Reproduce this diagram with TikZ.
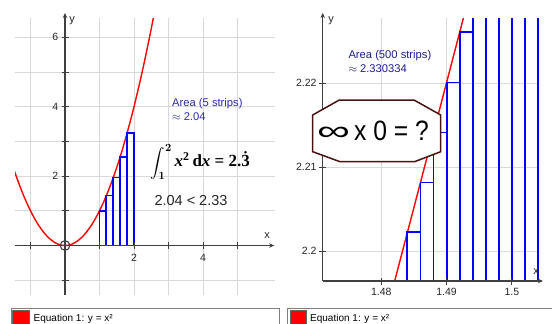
\documentclass[tikz,border=0pt]{standalone}
\usepackage[no-math]{fontspec}
\setmainfont{Liberation Sans}
\newfontfamily\serifbf{Liberation Serif}
\usepackage{amsmath}
\usetikzlibrary{arrows.meta}
\definecolor{gridc}{HTML}{D9D9D9}
\definecolor{axisc}{HTML}{404040}
\definecolor{areac}{HTML}{2B2BA8}
\definecolor{areacb}{HTML}{1E1E8C}
\definecolor{octc}{HTML}{4A1212}
\newsavebox{\integbox}
\newsavebox{\infbox}
\tikzset{
 gridline/.style={gridc, line width=0.8pt},
 axisline/.style={axisc, line width=1.3pt, -{Stealth[length=5pt,width=4.5pt]}},
 tickline/.style={axisc, line width=1pt},
 curve/.style={red, line width=1.4pt},
 strip/.style={blue, line width=1.9pt},
 numlbl/.style={font=\fontsize{10.5}{12}\selectfont, text=black!85, inner sep=0pt},
 axlbl/.style={font=\fontsize{11}{12}\selectfont, text=black!85, inner sep=0pt},
 arealbl/.style={font=\fontsize{11.2}{13.5}\selectfont, text=areac, align=left, inner sep=0pt, anchor=north west},
 legendbox/.style={draw=gray, line width=0.8pt, fill=white},
 swatch/.style={fill=red, draw=black!60, line width=0.5pt},
 legendtxt/.style={font=\fontsize{10}{12}\selectfont, inner sep=0pt, anchor=base west},
 octagon/.style={draw=octc, line width=1.5pt, fill=white},
}
\begin{document}
\sbox{\integbox}{\fontsize{15.5}{18}\selectfont\boldmath$\displaystyle\int_{1}^{2}$\fontsize{17}{20}\selectfont\serifbf\bfseries\,\textit{x}\textsuperscript{2}\,d\textit{x} = 2.$\dot{\text{3}}$}%
\sbox{\infbox}{\fontsize{28}{30}\selectfont\scalebox{1.65}[1.0]{∞}\scalebox{0.88}[1]{\,x 0 = ?}}%
\begin{tikzpicture}[x=1pt,y=-1pt]
\useasboundingbox (0,0) rectangle (552,324);
\fill[white] (0,0) rectangle (552,324);

% ---------------- Left panel ----------------
\begin{scope}[shift={(65,245.5)}, x=34.5pt, y=34.7pt]
 \begin{scope}
  \clip (-1.449,-1.4265) rectangle (6.087,6.556);
  \foreach \i in {-1,...,5} \draw[gridline] (\i,-1.43) -- (\i,6.56);
  \foreach \j in {-1,...,6} \draw[gridline] (-1.45,\j) -- (6.09,\j);
  \draw[curve] plot[domain=-1.46:2.6, samples=90, smooth] (\x,{\x*\x});
  \foreach \i in {0,...,4} {\pgfmathsetmacro\a{1+0.2*\i}
   \draw[strip] (\a,0) rectangle (\a+0.2,\a*\a);}
 \end{scope}
 \coordinate (lxs) at (-1.449,0);
 \coordinate (lxe) at (6.06,0);
 \coordinate (lys) at (0,-1.4265);
 \coordinate (lye) at (0,6.70);
 \draw[axisline] (lxs) -- (lxe);
 \draw[axisline] (lys) -- (lye);
 \foreach \i in {-1,1,2,3,4,5} \draw[tickline] (\i,0) ++(0,-3.5pt) -- ++(0,7pt);
 \foreach \j in {-1,1,2,3,4,5,6} \draw[tickline] (0,\j) ++(-3.5pt,0) -- ++(7pt,0);
 \foreach \j in {2,4,6} \node[numlbl, anchor=east, xshift=-6.5pt] (ly\j) at (0,\j) {\j};
 \foreach \i in {2,4} \node[numlbl, anchor=north, yshift=-8.5pt] (lx\i) at (\i,0) {\i};
 \node[circle, draw=axisc, line width=1.1pt, minimum size=9.6pt, inner sep=0pt] (orig) at (0,0) {};
\end{scope}
\node[axlbl] (lylab) at (72,21) {y};
\node[axlbl] (lxlab) at (267,236) {x};
\node[arealbl] (area5) at (172,98.3) {Area (5 strips)\\$\approx$ 2.04};
\node[inner sep=0pt, anchor=base west] (integ) at (150.5,166.7) {\usebox{\integbox}};
\node[anchor=base, inner sep=0pt, font=\fontsize{14.5}{16}\selectfont, text=black!85] (ineq) at (191,205) {2.04 < 2.33};

% ---------------- Right panel ----------------
\begin{scope}[shift={(381.3,251.3)}, x=65.3pt, y=84pt]
 \begin{scope}
  \clip (-0.897,-0.3536) rectangle (2.43,2.777);
  \foreach \i in {0,1,2} \draw[gridline] (\i,-0.36) -- (\i,2.78);
  \foreach \j in {0,1,2} \draw[gridline] (-0.9,\j) -- (2.415,\j);
  \draw[curve] plot[domain=0:1.5, samples=20] (\x,{2.96*\x+0.01*\x*\x-0.96});
  \foreach \i in {0,...,10} {\pgfmathsetmacro\u{0.4+0.2*\i}
   \pgfmathsetmacro\v{2.96*\u+0.01*\u*\u-0.96}
   \draw[strip] (\u,-1) rectangle (\u+0.2,\v);}
 \end{scope}
 \coordinate (rxs) at (-0.897,-0.3536);
 \coordinate (rxe) at (2.476,-0.3536);
 \coordinate (rye) at (-0.897,2.837);
 \draw[axisline] (rxs) -- (rxe);
 \draw[axisline] (rxs) -- (rye);
 \foreach \i in {0,1,2} \draw[tickline] (\i,-0.3536) ++(0,-3.5pt) -- ++(0,7pt);
 \foreach \j in {0,1,2} \draw[tickline] (-0.897,\j) ++(-3.5pt,0) -- ++(7pt,0);
 \node[numlbl, anchor=east, xshift=-6pt] (ry0) at (-0.897,0) {2.2};
 \node[numlbl, anchor=east, xshift=-6pt] (ry1) at (-0.897,1) {2.21};
 \node[numlbl, anchor=east, xshift=-6pt] (ry2) at (-0.897,2) {2.22};
 \node[numlbl, anchor=north, yshift=-7pt] (rx0) at (0,-0.3536) {1.48};
 \node[numlbl, anchor=north, yshift=-7pt] (rx1) at (1,-0.3536) {1.49};
 \node[numlbl, anchor=north, yshift=-7pt] (rx2) at (2,-0.3536) {1.5};
\end{scope}
\node[axlbl] (rylab) at (331,21) {y};
\node[axlbl] (rxlab) at (536,272) {x};
\node[arealbl, text=areacb] (area500) at (348.3,50.5) {Area (500 strips)\\$\approx$ 2.330334};

% octagon
\draw[octagon] (312.7,115) -- (339.3,100) -- (414,100) -- (440.7,115) -- (440.7,151.7) -- (414.5,161.7) -- (340,161.7) -- (312.7,151.7) -- cycle;
\node[inner sep=0pt] (inf) at (373,131) {\usebox{\infbox}};

% ---------------- Legends ----------------
\draw[legendbox] (11,308) rectangle (279,330);
\draw[swatch] (12.5,310) rectangle (29.5,326);
\node[legendtxt] (leg1) at (33.5,321.5) {Equation 1: y = x²};
\draw[legendbox] (287.7,308) rectangle (556,330);
\draw[swatch] (290,310) rectangle (306.5,326);
\node[legendtxt] (leg2) at (310,321.5) {Equation 1: y = x²};
\end{tikzpicture}
\end{document}
